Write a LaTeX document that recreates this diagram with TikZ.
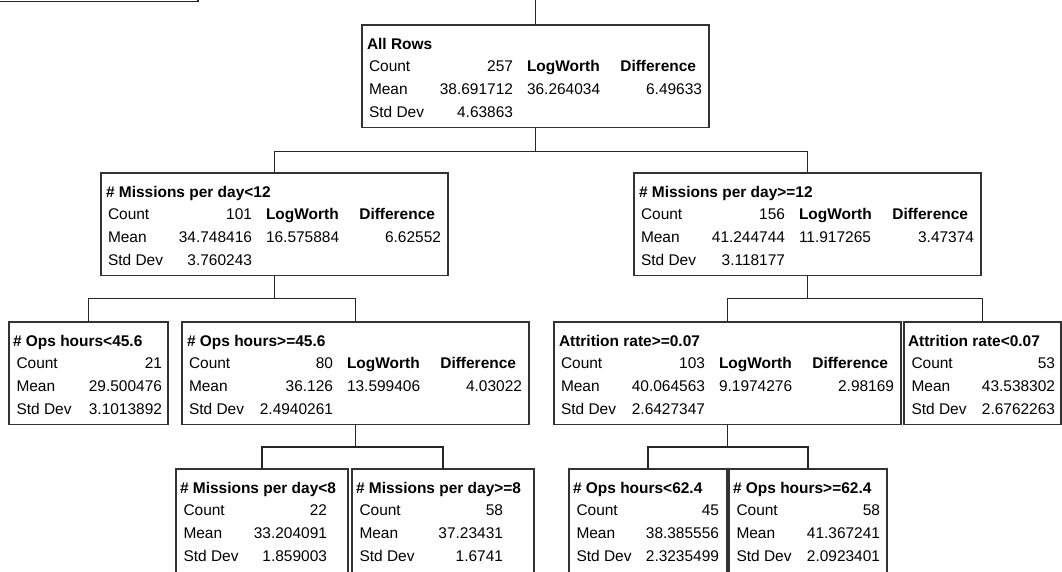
\documentclass[tikz,border=0pt]{standalone}
\usepackage{fontspec}
\setmainfont{Liberation Sans}
\newdimen\pxu \pxu=0.75pt
\tikzset{
  box/.style={rectangle, draw=black!80, line width=1.2\pxu, inner sep=0pt, outer sep=0pt, anchor=north west},
  conn/.style={draw=black!85, line width=1.2\pxu},
  txt/.style={inner sep=0pt, outer sep=0pt, font=\fontsize{11.6}{13}\selectfont},
  btxt/.style={inner sep=0pt, outer sep=0pt, font=\fontsize{11.6}{13}\selectfont\bfseries},
}
% #1 name, #2 left, #3 top, #4 title, #5 count, #6 mean, #7 std, #8 logworth, #9 difference
\newcommand\BigBox[9]{%
  \node[box, minimum width=347\pxu, minimum height=102.5\pxu] (#1) at (#2,#3) {};
  \node[btxt, anchor=base west] (#1-t) at (#2+5,#3+24) {#4};
  \node[txt, anchor=base west] (#1-cl) at (#2+7,#3+46.5) {Count};
  \node[txt, anchor=base east] (#1-cv) at (#2+151,#3+46.5) {#5};
  \node[btxt, anchor=base west] (#1-lh) at (#2+165,#3+46.5) {LogWorth};
  \node[btxt, anchor=base east] (#1-dh) at (#2+334,#3+46.5) {Difference};
  \node[txt, anchor=base west] (#1-ml) at (#2+7,#3+69.5) {Mean};
  \node[txt, anchor=base east] (#1-mv) at (#2+151,#3+69.5) {#6};
  \node[txt, anchor=base west] (#1-lv) at (#2+165,#3+69.5) {#8};
  \node[txt, anchor=base east] (#1-dv) at (#2+340,#3+69.5) {#9};
  \node[txt, anchor=base west] (#1-sl) at (#2+7,#3+92) {Std Dev};
  \node[txt, anchor=base east] (#1-sv) at (#2+151,#3+92) {#7};
}
% box height for the small boxes
\newcommand\sbh{102.5}
% #1 name, #2 left, #3 top, #4 width, #5 title, #6 count, #7 mean, #8 std, #9 value right edge
\newcommand\SBox[9]{%
  \node[box, minimum width=#4\pxu, minimum height=\sbh\pxu] (#1) at (#2,#3) {};
  \node[btxt, anchor=base west] (#1-t) at (#2+4,#3+24) {#5};
  \node[txt, anchor=base west] (#1-cl) at (#2+7.5,#3+46.5) {Count};
  \node[txt, anchor=base east] (#1-cv) at (#9,#3+46.5) {#6};
  \node[txt, anchor=base west] (#1-ml) at (#2+7.5,#3+69.5) {Mean};
  \node[txt, anchor=base east] (#1-mv) at (#9,#3+69.5) {#7};
  \node[txt, anchor=base west] (#1-sl) at (#2+7.5,#3+92) {Std Dev};
  \node[txt, anchor=base east] (#1-sv) at (#9,#3+92) {#8};
}
\begin{document}
\begin{tikzpicture}[x=0.75pt, y=-0.75pt]
\useasboundingbox (0,0) rectangle (1062,571);
\clip (0,0) rectangle (1062,571);
\fill[white] (0,0) rectangle (1062,571);

% fragment of a box cut off at the top left
\draw[conn] (-5,1.5) -- (198,1.5) -- (198,-5);

\BigBox{root}{362}{25}{All Rows}{257}{38.691712}{4.63863}{36.264034}{6.49633}
\BigBox{ma}{101}{173}{\# Missions per day<12}{101}{34.748416}{3.760243}{16.575884}{6.62552}
\BigBox{mb}{634}{173}{\# Missions per day>=12}{156}{41.244744}{3.118177}{11.917265}{3.47374}
\SBox{oa}{9}{322}{159}{\# Ops hours<45.6}{21}{29.500476}{3.1013892}{162}
\BigBox{ob}{182}{322}{\# Ops hours>=45.6}{80}{36.126}{2.4940261}{13.599406}{4.03022}
\BigBox{aa}{554}{322}{Attrition rate>=0.07}{103}{40.064563}{2.6427347}{9.1974276}{2.98169}
\SBox{ab}{904}{322}{157}{Attrition rate<0.07}{53}{43.538302}{2.6762263}{1055}
\renewcommand\sbh{115}
\SBox{pa}{176}{469}{172}{\# Missions per day<8}{22}{33.204091}{1.859003}{327}
\SBox{pb}{352}{469}{182}{\# Missions per day>=8}{58}{37.23431}{1.6741}{503}
\SBox{qa}{569}{469}{158}{\# Ops hours<62.4}{45}{38.385556}{2.3235499}{719}
\SBox{qb}{729}{469}{158}{\# Ops hours>=62.4}{58}{41.367241}{2.0923401}{880}

% connectors
\draw[conn] (root.north) -- ++(0,-30);
\draw[conn] (root.south) -- ++(0,24) coordinate (j0);
\draw[conn] (ma.north) |- (j0) -| (mb.north);
\draw[conn] (ma.south) -- ++(0,23) coordinate (j1);
\draw[conn] (oa.north) |- (j1) -| (ob.north);
\draw[conn] (mb.south) -- ++(0,23) coordinate (j2);
\draw[conn] (aa.north) |- (j2) -| (ab.north);
\draw[conn] (ob.south) -- ++(0,22.5) coordinate (j3);
\draw[conn] (pa.north) |- (j3) -| (pb.north);
\draw[conn] (aa.south) -- ++(0,22.5) coordinate (j4);
\draw[conn] (qa.north) |- (j4) -| (qb.north);
\end{tikzpicture}
\end{document}
